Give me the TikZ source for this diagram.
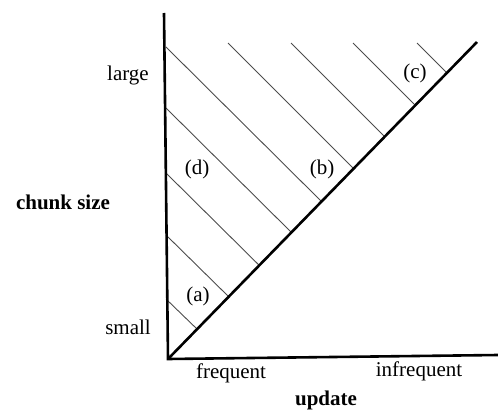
\documentclass[tikz,border=0pt]{standalone}
\usepackage{fontspec}
\setmainfont{Liberation Serif}
\begin{document}
\begin{tikzpicture}[x=1pt,y=-1pt,
  axis/.style={line width=2.6pt,black},
  hatch/.style={line width=0.9pt,black!70},
  lbl/.style={font=\fontsize{21}{24}\selectfont,inner sep=0pt},
  blbl/.style={font=\fontsize{21}{24}\selectfont\bfseries,inner sep=0pt}]
\useasboundingbox (0,0) rectangle (498,412);
\coordinate (O) at (168,359);
\coordinate (T) at (164,13);
\coordinate (R) at (498,355);
\coordinate (D) at (477,42);
% hatch lines
\draw[hatch] (166,299) -- (197.6,329.6);
\draw[hatch] (166,235) -- (229,297);
\draw[hatch] (166,173) -- (259.6,265.7);
\draw[hatch] (166,108) -- (291.7,232.7);
\draw[hatch] (166,47) -- (321.8,201.8);
\draw[hatch] (228,43) -- (353.8,168.8);
\draw[hatch] (291,43) -- (384.8,136.8);
\draw[hatch] (353,43) -- (415.4,105.4);
\draw[hatch] (417,43) -- (447,73);
% axes
\draw[axis,line join=miter] (T) -- (O) -- (R);
\draw[axis] (O) -- (D);
% labels
\node[lbl] (large) at (128,75) {large};
\node[lbl] (small) at (128,327) {small};
\node[blbl] (chunk) at (63,202) {chunk size};
\node[lbl] (freq) at (231,373) {frequent};
\node[lbl] (infreq) at (419,371) {infrequent};
\node[blbl] (update) at (326,400) {update};
\node[lbl] (la) at (198,296) {(a)};
\node[lbl] (ld) at (197,169) {(d)};
\node[lbl] (lb) at (322,169) {(b)};
\node[lbl] (lc) at (415,73) {(c)};
\end{tikzpicture}
\end{document}
